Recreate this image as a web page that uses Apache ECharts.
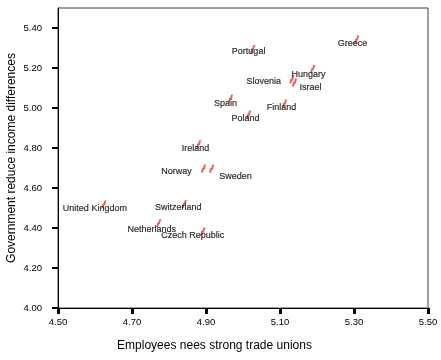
<!DOCTYPE html>
<html><head><meta charset="utf-8">
<script src="https://cdn.jsdelivr.net/npm/echarts@6/dist/echarts.min.js"></script>
<style>html,body{margin:0;padding:0;background:#fff}#c{width:441px;height:360px}</style>
</head><body><div id="c"></div>
<script>
const countries = ["Greece","Portugal","Hungary","Slovenia","Israel","Spain","Poland","Finland","Ireland","Norway","Sweden","United Kingdom","Switzerland","Netherlands","Czech Republic"];
const unionsValues = [5.307,5.026,5.188,5.132,5.139,4.966,5.015,5.112,4.880,4.893,4.915,4.624,4.841,4.772,4.891];
const reduceValues = [5.342,5.295,5.195,5.142,5.127,5.047,4.967,5.022,4.819,4.697,4.696,4.518,4.520,4.424,4.382];
const xTicks = [4.5,4.7,4.9,5.1,5.3,5.5];
const yTicks = [4.0,4.2,4.4,4.6,4.8,5.0,5.2,5.4];
const xTitle = "Employees nees strong trade unions";
const yTitle = "Government reduce income differences";
// label placement (style, not data)
const labelOffsets = [[-4,4],[-4,3],[-4,6],[-28,2],[16,5],[-5,5],[-3,4],[-3,4],[-3,4],[-27,3],[24,8],[-9,4],[-6,4],[-7,6],[-10,4]];

const font = "Arial, 'Liberation Sans', sans-serif";
const pts = countries.map((n,i)=>({ name:n, value:[unionsValues[i], reduceValues[i]] }));
const chart = echarts.init(document.getElementById('c'), null, {renderer:'canvas'});
chart.setOption({
  animation:false,
  backgroundColor:'#fff',
  grid:{left:58,right:13,top:8,bottom:52,outerBoundsMode:'none',containLabel:false,show:true,borderColor:'#404040',borderWidth:1,backgroundColor:'transparent'},
  xAxis:{type:'value',min:4.5,max:5.5,
    name:xTitle,nameLocation:'middle',nameGap:32,nameMoveOverlap:false,
    nameTextStyle:{fontFamily:font,fontSize:12,color:'#000',padding:[0,57,0,0]},
    axisLine:{show:true,lineStyle:{color:'#000',width:1}},
    axisTick:{show:true,length:6,lineStyle:{color:'#000',width:3},customValues:xTicks},
    axisLabel:{fontFamily:font,fontSize:9.5,color:'#000',margin:9,customValues:xTicks,formatter:v=>v.toFixed(2)},
    splitLine:{show:false}},
  yAxis:{type:'value',min:4.0,max:5.5,
    name:yTitle,nameLocation:'middle',nameGap:40,nameRotate:90,nameMoveOverlap:false,
    nameTextStyle:{fontFamily:font,fontSize:12,color:'#000'},
    axisLine:{show:true,lineStyle:{color:'#000',width:1}},
    axisTick:{show:true,length:6,lineStyle:{color:'#000',width:2},customValues:yTicks},
    axisLabel:{fontFamily:font,fontSize:9.5,color:'#000',margin:16,customValues:yTicks,formatter:v=>v.toFixed(2)},
    splitLine:{show:false}},
  series:[{type:'scatter',data:pts,
    symbol:'path://M0,10 L3,10 L4.5,6 L6,6 L8,0 L5,0 L3.5,4 L2,4 Z',
    symbolSize:[5,8],
    itemStyle:{color:'#ff2a2a'},
    label:{show:true,position:'inside',formatter:p=>p.name,fontFamily:font,fontSize:9,color:'#000',textBorderColor:'#000',textBorderWidth:0.2},
    labelLayout:p=>({dx:labelOffsets[p.dataIndex][0], dy:labelOffsets[p.dataIndex][1], hideOverlap:false})
  }]
});
</script></body></html>
